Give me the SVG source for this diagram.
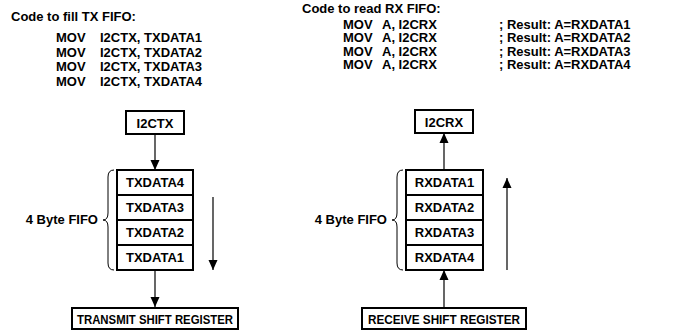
<svg xmlns="http://www.w3.org/2000/svg" width="673" height="330" viewBox="0 0 673 330">
<defs>
<style>
text{font-family:"Liberation Sans",Arial,sans-serif;font-weight:bold;font-size:13px;fill:#000}
.t{font-size:13px}
.sr{font-size:12.5px}
.box{fill:#fff;stroke:#000;stroke-width:2}
.ln{stroke:#000;stroke-width:1.2;fill:none}
.br{stroke:#000;stroke-width:1;fill:none}
.c{text-anchor:middle}
.e{text-anchor:end}
</style>
<marker id="ah" viewBox="0 0 10 14" refX="10" refY="7" markerWidth="10" markerHeight="14" markerUnits="userSpaceOnUse" orient="auto"><path d="M0,2.5 L10,7 L0,11.5 Z" fill="#000"/></marker>
</defs>
<g id="tx-code">
<text class="t" x="11" y="21">Code to fill TX FIFO:</text>
<text x="56" y="42">MOV</text><text x="100" y="42">I2CTX, TXDATA1</text>
<text x="56" y="56.5">MOV</text><text x="100" y="56.5">I2CTX, TXDATA2</text>
<text x="56" y="71">MOV</text><text x="100" y="71">I2CTX, TXDATA3</text>
<text x="56" y="85.5">MOV</text><text x="100" y="85.5">I2CTX, TXDATA4</text>
</g>
<g id="rx-code">
<text class="t" x="302" y="13">Code to read RX FIFO:</text>
<text x="343" y="28.5">MOV</text><text x="382" y="28.5">A, I2CRX</text><text x="499" y="28.5">; Result: A=RXDATA1</text>
<text x="343" y="42">MOV</text><text x="382" y="42">A, I2CRX</text><text x="499" y="42">; Result: A=RXDATA2</text>
<text x="343" y="55.5">MOV</text><text x="382" y="55.5">A, I2CRX</text><text x="499" y="55.5">; Result: A=RXDATA3</text>
<text x="343" y="69">MOV</text><text x="382" y="69">A, I2CRX</text><text x="499" y="69">; Result: A=RXDATA4</text>
</g>
<g id="connectors">
<line class="ln" x1="155" y1="134" x2="155" y2="170" marker-end="url(#ah)"/>
<line class="ln" x1="155" y1="270" x2="155" y2="307" marker-end="url(#ah)"/>
<line class="ln" x1="213" y1="197" x2="213" y2="270" marker-end="url(#ah)"/>
<line class="ln" x1="444" y1="170" x2="444" y2="133" marker-end="url(#ah)"/>
<line class="ln" x1="444" y1="307" x2="444" y2="270" marker-end="url(#ah)"/>
<line class="ln" x1="507" y1="270" x2="507" y2="178" marker-end="url(#ah)"/>
</g>
<g id="i2ctx"><rect class="box" x="126" y="111" width="58" height="23"/><text class="c" x="155" y="127.5">I2CTX</text></g>
<g id="tx-fifo">
<rect class="box" x="117" y="170" width="76" height="25"/><text class="c" x="155" y="187">TXDATA4</text>
<rect class="box" x="117" y="195" width="76" height="25"/><text class="c" x="155" y="212">TXDATA3</text>
<rect class="box" x="117" y="220" width="76" height="25"/><text class="c" x="155" y="237">TXDATA2</text>
<rect class="box" x="117" y="245" width="76" height="25"/><text class="c" x="155" y="262">TXDATA1</text>
</g>
<g id="tx-brace"><path class="br" d="M114,170 Q108,170 108,177 L108,213 Q108,220 103,220 Q108,220 108,227 L108,263 Q108,270 114,270"/><text class="e" x="98" y="224">4 Byte FIFO</text></g>
<g id="tsr"><rect class="box" x="72" y="308" width="166" height="21"/><text class="c sr" x="155" y="323.5" textLength="156" lengthAdjust="spacingAndGlyphs">TRANSMIT SHIFT REGISTER</text></g>
<g id="i2crx"><rect class="box" x="415" y="110" width="58" height="23"/><text class="c" x="444" y="126.5">I2CRX</text></g>
<g id="rx-fifo">
<rect class="box" x="406" y="170" width="77" height="25"/><text class="c" x="444.5" y="187">RXDATA1</text>
<rect class="box" x="406" y="195" width="77" height="25"/><text class="c" x="444.5" y="212">RXDATA2</text>
<rect class="box" x="406" y="220" width="77" height="25"/><text class="c" x="444.5" y="237">RXDATA3</text>
<rect class="box" x="406" y="245" width="77" height="25"/><text class="c" x="444.5" y="262">RXDATA4</text>
</g>
<g id="rx-brace"><path class="br" d="M403,170 Q397,170 397,177 L397,213 Q397,220 392,220 Q397,220 397,227 L397,263 Q397,270 403,270"/><text class="e" x="387" y="224">4 Byte FIFO</text></g>
<g id="rsr"><rect class="box" x="362" y="308" width="164" height="21"/><text class="c sr" x="444" y="323.5" textLength="152" lengthAdjust="spacingAndGlyphs">RECEIVE SHIFT REGISTER</text></g>
</svg>
